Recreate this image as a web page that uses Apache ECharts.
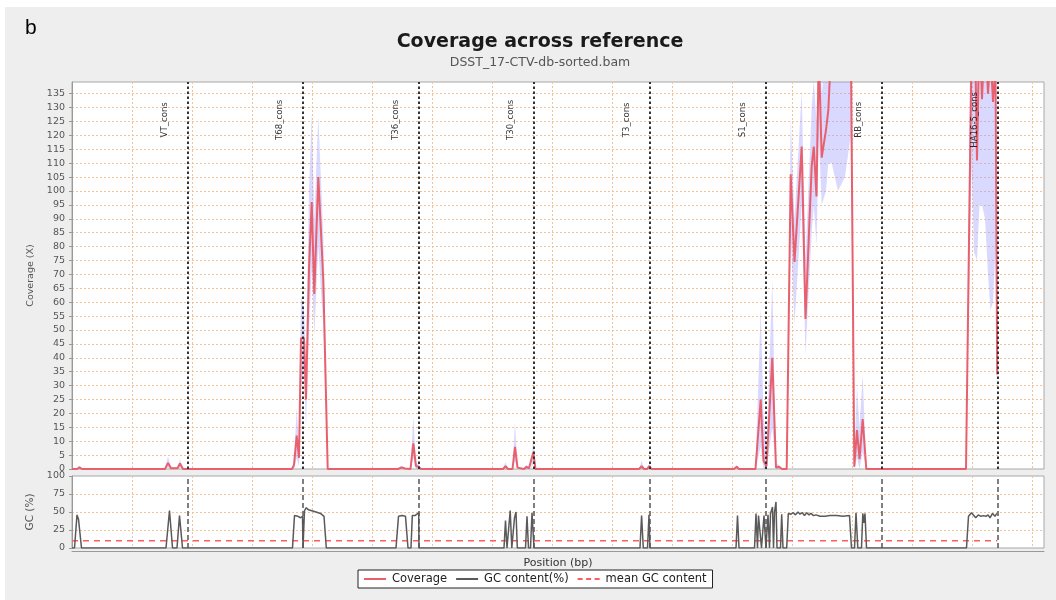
<!DOCTYPE html>
<html>
<head>
<meta charset="utf-8">
<title>Coverage across reference</title>
<script src="https://cdn.jsdelivr.net/npm/echarts@6.0.0/dist/echarts.min.js"></script>
<style>
  html, body { margin: 0; padding: 0; background: #ffffff; }
  #chart { width: 1056px; height: 600px; }
</style>
</head>
<body>
<div id="chart"></div>
<script>
// Reference contigs (concatenated in this order) and their lengths in bp
const contigNames = ['VT_cons', 'T68_cons', 'T36_cons', 'T30_cons', 'T3_cons', 'S1_cons', 'RB_cons', 'HA16-5_cons'];
const contigLengths = [19250, 19200, 19380, 19170, 19330, 19330, 19250, 19300];

// Windowed coverage: window position (bp), mean coverage, mean - sd, mean + sd
const covPos = [0, 833, 1250, 1667, 15500, 16000, 16500, 17583, 18000, 18500,
  36667, 37000, 37450, 37833, 38167, 38667, 39000, 39500, 39950, 40383, 41050, 41617, 41883, 42617,
  54333, 54917, 55500, 56417, 56883, 57333, 57750, 58167,
  71833, 72250, 72667, 73417, 73833, 74250, 75333, 75750, 76167, 76500, 76883, 77250,
  94500, 94950, 95333, 95833, 96217, 96583,
  110333, 110783, 111167, 113917, 114783, 115250, 115750, 116717, 117333, 117833, 118333, 119117,
  119783, 120417, 121617, 122250, 123283, 123633, 124083, 124467, 124950, 125667, 126050, 126617,
  127667, 128833, 129783, 130383, 130833, 131250, 131783, 132383,
  149000, 149917, 150333, 150833, 151250, 151667, 152167, 152667, 153083, 153500, 153917, 154200];
const covMean = [0, 0, 0.6, 0, 0, 2.2, 0.3, 0.3, 2, 0,
  0, 1.5, 12, 4, 47, 47, 25, 72, 96, 63, 105, 80, 68, 0,
  0, 0.6, 0.2, 0, 9.2, 1, 0.8, 0,
  0, 1, 0, 0, 8, 0.5, 0, 0.8, 0.3, 0, 6, 0,
  0, 1, 0, 0, 1, 0,
  0, 0.8, 0, 0, 25, 3, 1, 40, 0.5, 0.8, 0, 0,
  106, 74.5, 116, 54, 109, 116, 98, 150, 112, 122, 129, 155,
  170, 165, 160, 0.8, 14, 3.5, 18, 0,
  0, 150, 180, 111, 160, 133, 160, 135, 150, 132, 145, 34];
const covLow = [0, 0, 0, 0, 0, 0.5, 0, 0, 0.5, 0,
  0, 0, 4, 1, 30, 35, 15, 50, 72, 48, 80, 60, 52, 0,
  0, 0, 0, 0, 4, 0, 0, 0,
  0, 0, 0, 0, 3, 0, 0, 0, 0, 0, 2, 0,
  0, 0, 0, 0, 0, 0,
  0, 0, 0, 0, 8, 0, 0, 15, 0, 0, 0, 0,
  85, 52, 95, 41, 85, 95, 80, 120, 95, 100, 110, 110,
  100, 105, 120, 0, 4, 0, 6, 0,
  0, 110, 78, 75, 95, 95, 90, 70, 57, 60, 80, 15];
const covHigh = [0, 0, 1.2, 0, 0, 4.5, 0.8, 0.5, 3.5, 0,
  0, 3, 22, 8, 62, 58, 38, 100, 128, 90, 127, 98, 84, 0,
  0, 1.2, 0.4, 0, 19, 2, 2, 0,
  0, 2.5, 0, 0, 17, 1, 0, 1.5, 0.6, 0, 11.6, 0,
  0, 3, 0, 0, 2, 0,
  0, 1.5, 0, 0, 58, 20, 8, 68, 2, 1.5, 0, 0,
  126, 90, 136, 75, 130, 140, 125, 175, 135, 150, 160, 190,
  220, 210, 190, 5, 30, 15, 34, 0,
  0, 200, 230, 170, 210, 190, 200, 190, 210, 180, 190, 55];

// Windowed GC content (%)
const gcPos = [0, 417, 833, 1083, 1583, 15667, 16250, 16750, 17500, 17917, 18417,
  36750, 37083, 37667, 38083, 38417, 38500, 38633, 38750, 39050, 39417, 39833, 40250, 40667,
  41000, 41417, 41750, 42000, 42383,
  54000, 54417, 55000, 55583, 56000, 56500, 56717, 57167, 57500, 57783, 57833,
  72000, 72250, 72500, 72800, 73033, 73300, 73500, 73750, 74000, 74217,
  75583, 75833, 76083, 76417, 76667, 76967, 77000,
  94667, 94933, 95217, 95917, 96167, 96330,
  110667, 110917, 111167, 113750, 114000, 114250, 114417, 114667, 114917, 115167, 115333,
  115583, 115660, 115833, 116000, 116250, 116417, 116750, 116917, 117083, 117333, 117500,
  118083, 118283, 118500, 119117, 119383, 119833, 120217, 120583, 121000, 121333, 121750,
  122083, 122450, 122833, 123167, 123583, 124000, 124667, 125500, 126333, 127450, 128500,
  129583, 129917,
  130417, 130667, 130967, 131583, 131800, 132000, 132167, 132417,
  149083, 149417, 149917, 150250, 150617, 151050, 151500, 151917, 152333, 152667, 153000,
  153417, 153833, 154133];
const gcValues = [0, 0, 46, 40, 0, 0, 52, 0, 0, 45, 0,
  0, 45, 44, 42, 44, 0, 0, 52, 56, 53, 52, 51, 50,
  51, 48, 49, 44, 0,
  0, 44, 45, 44, 0, 0, 45, 45, 46, 49, 0,
  0, 38, 0, 0, 52, 0, 0, 42, 50, 0,
  0, 44, 0, 0, 49, 49, 0,
  0, 45, 0, 0, 46, 0,
  0, 45, 0, 0, 48, 0, 45, 45, 0, 0, 45,
  45, 0, 0, 46, 0, 48, 57, 0, 50, 64, 0,
  0, 47, 0, 0, 48, 47, 49, 46, 50, 47, 49,
  45, 49, 46, 48, 45, 46, 44, 44, 45, 45, 44,
  45, 0,
  0, 49, 0, 0, 48, 35, 48, 0,
  0, 44, 49, 47, 42, 46, 44, 45, 44, 46, 42,
  48, 44, 48];
const meanGC = 10;

// Axis ranges and tick steps
const positionMax = 162000;
const positionStep = 10000;
const coverageMax = 139.2;
const coverageStep = 5;
const gcMax = 100;
const gcStep = 25;

// Contig end positions along the concatenated reference
const boundaries = [];
contigLengths.reduce((acc, len) => { boundaries.push(acc + len); return acc + len; }, 0);
const referenceLength = boundaries[boundaries.length - 1];

const pairs = (xs, ys) => xs.map((x, i) => [x, ys[i]]);

// dotted orange guides inside the plots (the plot outline stays grey)
const gridLine = { showMinLine: false, showMaxLine: false, lineStyle: { color: '#f1c39d', type: [2, 2], width: 1 } };
const tickText = { color: '#555', fontSize: 9.5, fontFamily: 'DejaVu Sans' };

// legend glyphs: a solid stroke and a dashed stroke
const solidIcon = 'path://M0,0H22V2H0Z';
const dashedIcon = 'path://M0,0H5V2H0Z M8.5,0H13.5V2H8.5Z M17,0H22V2H17Z';

const chart = echarts.init(document.getElementById('chart'), null, { renderer: 'canvas' });

chart.setOption({
  animation: false,
  backgroundColor: '#eeeeee',
  title: {
    text: 'Coverage across reference',
    subtext: 'DSST_17-CTV-db-sorted.bam',
    left: 535,
    textAlign: 'center',
    top: 28,
    itemGap: 4,
    textStyle: { fontSize: 19, fontWeight: 'bold', color: '#1a1a1a', fontFamily: 'DejaVu Sans' },
    subtextStyle: { fontSize: 12.5, color: '#555', fontFamily: 'DejaVu Sans' }
  },
  graphic: [
    { type: 'rect', shape: { x: 0, y: 0, width: 1056, height: 7 }, style: { fill: '#ffffff' }, z: 100 },
    { type: 'rect', shape: { x: 0, y: 0, width: 5, height: 600 }, style: { fill: '#ffffff' }, z: 100 },
    { type: 'text', left: 25, top: 18, style: { text: 'b', font: '21px "Liberation Sans", Arial, sans-serif', fill: '#000' }, z: 100 }
  ],
  legend: {
    data: [
      { name: 'Coverage', icon: solidIcon },
      { name: 'GC content(%)', icon: solidIcon },
      { name: 'mean GC content', icon: dashedIcon }
    ],
    left: 358,
    top: 570,
    orient: 'horizontal',
    backgroundColor: '#ffffff',
    borderColor: '#222',
    borderWidth: 1,
    borderRadius: 0,
    padding: [3, 6, 3, 6],
    itemGap: 9,
    itemWidth: 22,
    itemHeight: 2,
    selectedMode: false,
    textStyle: { fontSize: 11.5, color: '#222', fontFamily: 'DejaVu Sans', padding: [0, 0, 0, 1] }
  },
  grid: [
    { left: 72, top: 82, width: 972, height: 387, show: true, backgroundColor: '#ffffff', borderColor: '#a8a8a8', borderWidth: 1, outerBoundsMode: 'none' },
    { left: 72, top: 476, width: 972, height: 72, show: true, backgroundColor: '#ffffff', borderColor: '#a8a8a8', borderWidth: 1, outerBoundsMode: 'none' }
  ],
  xAxis: [
    {
      gridIndex: 0, type: 'value', min: 0, max: positionMax, interval: positionStep,
      axisLabel: { show: false }, axisTick: { show: false }, axisLine: { show: false },
      splitLine: gridLine
    },
    {
      gridIndex: 1, type: 'value', min: 0, max: positionMax, interval: positionStep,
      axisLabel: { show: false }, axisTick: { show: false },
      axisLine: { show: true, onZero: false, lineStyle: { color: '#999', width: 1 } },
      offset: 3,
      splitLine: gridLine,
      name: 'Position (bp)', nameLocation: 'middle', nameGap: 7,
      nameTextStyle: { fontSize: 11, color: '#333', fontFamily: 'DejaVu Sans', verticalAlign: 'top' }
    }
  ],
  yAxis: [
    {
      gridIndex: 0, type: 'value', min: 0, max: coverageMax, interval: coverageStep,
      axisLine: { show: true, lineStyle: { color: '#999' } },
      offset: 2,
      axisTick: { show: true, length: 3, lineStyle: { color: '#999' } },
      axisLabel: Object.assign({ margin: 5, showMaxLabel: false, formatter: v => (v % coverageStep === 0 ? String(v) : '') }, tickText),
      splitLine: gridLine,
      name: 'Coverage (X)', nameLocation: 'middle', nameGap: 30, nameRotate: 90,
      nameTextStyle: { fontSize: 9.5, color: '#555', fontFamily: 'DejaVu Sans' }
    },
    {
      gridIndex: 1, type: 'value', min: 0, max: gcMax, interval: gcStep,
      axisLine: { show: true, lineStyle: { color: '#999' } },
      offset: 2,
      axisTick: { show: true, length: 3, lineStyle: { color: '#999' } },
      axisLabel: Object.assign({ margin: 5 }, tickText),
      splitLine: gridLine,
      name: 'GC (%)', nameLocation: 'middle', nameGap: 30, nameRotate: 90,
      nameTextStyle: { fontSize: 10.5, color: '#555', fontFamily: 'DejaVu Sans' }
    }
  ],
  series: [
    {
      // shaded band between mean - sd and mean + sd, clipped to the plot
      name: 'coverageBand', type: 'custom', xAxisIndex: 0, yAxisIndex: 0,
      silent: true, z: 1,
      data: [[0, 0]],
      renderItem: (params, api) => {
        const upper = covPos.map((x, i) => api.coord([x, covHigh[i]]));
        const lower = covPos.map((x, i) => api.coord([x, covLow[i]])).reverse();
        const cs = params.coordSys;
        return {
          type: 'polygon',
          shape: { points: upper.concat(lower) },
          style: { fill: 'rgba(150,150,255,0.36)' },
          clipPath: { type: 'rect', shape: { x: cs.x, y: cs.y, width: cs.width, height: cs.height } }
        };
      }
    },
    {
      name: 'Coverage', type: 'line', xAxisIndex: 0, yAxisIndex: 0,
      data: pairs(covPos, covMean), symbol: 'none',
      itemStyle: { color: '#e8606e' },
      lineStyle: { color: '#e8606e', width: 2 }, z: 3,
      markLine: {
        silent: true, symbol: 'none', label: { show: false }, z: 5,
        lineStyle: { color: '#333', type: [2.5, 2.5], width: 2 },
        data: boundaries.map(b => ({ xAxis: b }))
      }
    },
    {
      // contig names beside each contig end
      name: 'contigLabels', type: 'scatter', xAxisIndex: 0, yAxisIndex: 0,
      symbolSize: 0, silent: true, z: 6,
      data: boundaries.map((b, i) => ({ value: [b, 125.6], name: contigNames[i] })),
      label: {
        show: true, position: 'inside', formatter: p => p.name, rotate: 90, offset: [0, -23],
        align: 'center', verticalAlign: 'middle',
        fontSize: 9.5, color: '#000', fontFamily: '"DejaVu Sans Condensed", "DejaVu Sans", sans-serif'
      }
    },
    {
      name: 'GC content(%)', type: 'line', xAxisIndex: 1, yAxisIndex: 1,
      data: pairs(gcPos, gcValues), symbol: 'none',
      itemStyle: { color: '#5a5a5a' },
      lineStyle: { color: '#5a5a5a', width: 1.5 }, z: 3,
      markLine: {
        silent: true, symbol: 'none', label: { show: false }, z: 5,
        lineStyle: { color: '#555', type: [5, 3], width: 1.5 },
        data: boundaries.map(b => ({ xAxis: b }))
      }
    },
    {
      name: 'mean GC content', type: 'line', xAxisIndex: 1, yAxisIndex: 1,
      data: [[0, meanGC], [referenceLength, meanGC]], symbol: 'none',
      itemStyle: { color: '#ff5c5c' },
      lineStyle: { color: '#ff5c5c', width: 1.5, type: [6, 5] }, z: 2
    }
  ]
});
</script>
</body>
</html>
